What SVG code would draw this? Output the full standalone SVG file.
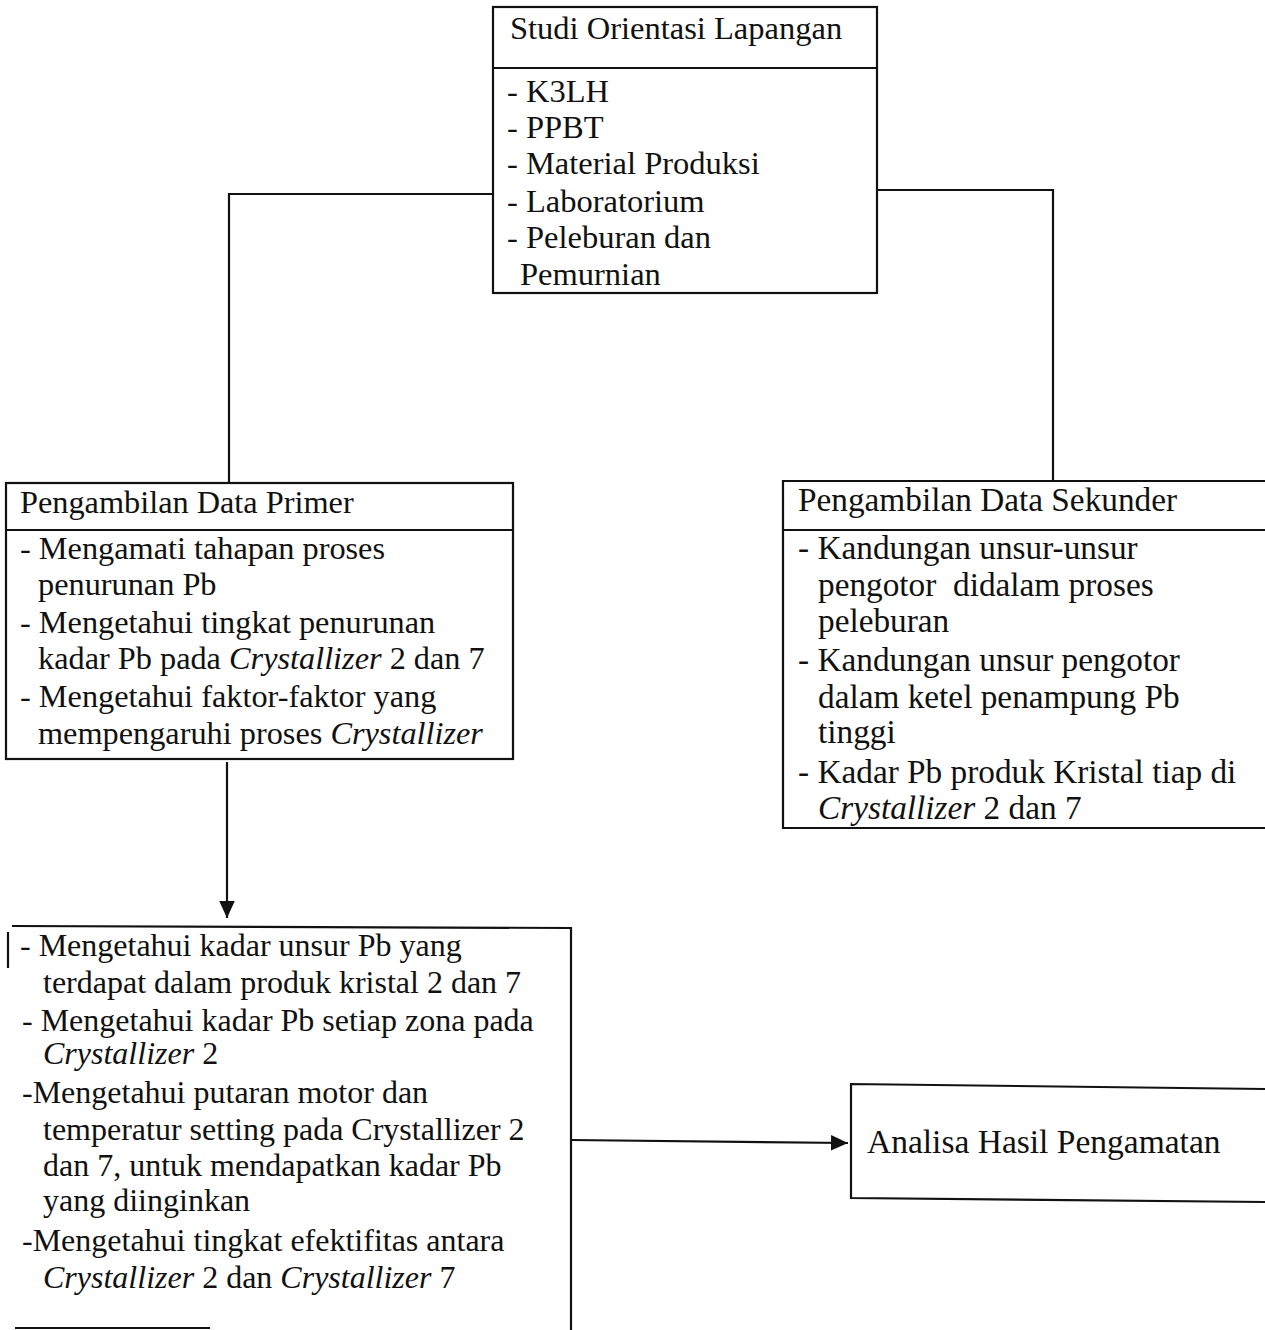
<svg xmlns="http://www.w3.org/2000/svg" width="1265" height="1330" viewBox="0 0 1265 1330">
<style>
.b{fill:none;stroke:#111;stroke-width:2.2}
.c{fill:none;stroke:#111;stroke-width:2.2}
text{font-family:"Liberation Serif","Times New Roman",serif;font-size:32px;fill:#111}
#studi text{font-size:32.5px}
#primer text{font-size:32.3px}
#sekunder text{font-size:33.3px}
#hasil text{font-size:32px}
#analisa text{font-size:33.5px}
.i{font-style:italic}
</style>
<defs>
<marker id="ah2" viewBox="0 0 12 12" refX="12" refY="6" markerWidth="17" markerHeight="17" markerUnits="userSpaceOnUse" orient="auto">
<path d="M0,0.5 L12,6 L0,11.5 z" fill="#111"/>
</marker>
</defs>
<rect width="1265" height="1330" fill="#fff"/>
<g id="connectors">
<polyline class="c" points="493,194 229,194 229,483"/>
<polyline class="c" points="877,190 1053,190 1053,481"/>
<line class="c" x1="227" y1="762" x2="227" y2="918" marker-end="url(#ah2)"/>
<line class="c" x1="571" y1="1140" x2="848" y2="1143" marker-end="url(#ah2)"/>
</g>
<g id="studi">
<rect class="b" x="493" y="7" width="384" height="286"/>
<line class="b" x1="493" y1="68" x2="877" y2="68"/>
<text x="510" y="39">Studi Orientasi Lapangan</text>
<text x="507" y="102">- K3LH</text>
<text x="507" y="138">- PPBT</text>
<text x="507" y="174">- Material Produksi</text>
<text x="507" y="212">- Laboratorium</text>
<text x="507" y="248">- Peleburan dan</text>
<text x="520" y="285">Pemurnian</text>
</g>
<g id="primer">
<rect class="b" x="6" y="483" width="507" height="276"/>
<line class="b" x1="6" y1="530" x2="513" y2="530"/>
<text x="20" y="513">Pengambilan Data Primer</text>
<text x="20" y="559">- Mengamati tahapan proses</text>
<text x="38" y="595">penurunan Pb</text>
<text x="20" y="633">- Mengetahui tingkat penurunan</text>
<text x="38" y="669">kadar Pb pada <tspan class="i">Crystallizer</tspan> 2 dan 7</text>
<text x="20" y="707">- Mengetahui faktor-faktor yang</text>
<text x="38" y="744">mempengaruhi proses <tspan class="i">Crystallizer</tspan></text>
</g>
<g id="sekunder">
<polyline class="b" points="1265,481 783,481 783,828 1265,828"/>
<line class="b" x1="783" y1="530" x2="1265" y2="530"/>
<text x="798" y="511">Pengambilan Data Sekunder</text>
<text x="798" y="559">- Kandungan unsur-unsur</text>
<text x="818" y="596" xml:space="preserve">pengotor  didalam proses</text>
<text x="818" y="632">peleburan</text>
<text x="798" y="671">- Kandungan unsur pengotor</text>
<text x="818" y="708">dalam ketel penampung Pb</text>
<text x="818" y="743">tinggi</text>
<text x="798" y="783">- Kadar Pb produk Kristal tiap di</text>
<text x="818" y="819"><tspan class="i">Crystallizer</tspan> 2 dan 7</text>
</g>
<g id="hasil">
<polyline class="b" points="12,926 571,928 571,1330"/>
<line class="b" x1="8" y1="932" x2="8" y2="968"/>
<line class="b" x1="15" y1="1328" x2="210" y2="1328"/>
<text x="20" y="956">- Mengetahui kadar unsur Pb yang</text>
<text x="43" y="993">terdapat dalam produk kristal 2 dan 7</text>
<text x="22" y="1031">- Mengetahui kadar Pb setiap zona pada</text>
<text x="43" y="1064"><tspan class="i">Crystallizer</tspan> 2</text>
<text x="22" y="1103">-Mengetahui putaran motor dan</text>
<text x="43" y="1140">temperatur setting pada Crystallizer 2</text>
<text x="43" y="1176">dan 7, untuk mendapatkan kadar Pb</text>
<text x="43" y="1211">yang diinginkan</text>
<text x="22" y="1251">-Mengetahui tingkat efektifitas antara</text>
<text x="43" y="1288"><tspan class="i">Crystallizer</tspan> 2 dan <tspan class="i">Crystallizer</tspan> 7</text>
</g>
<g id="analisa">
<polyline class="b" points="1265,1089 851,1084 851,1198 1265,1202"/>
<text x="867" y="1153">Analisa Hasil Pengamatan</text>
</g>
</svg>
